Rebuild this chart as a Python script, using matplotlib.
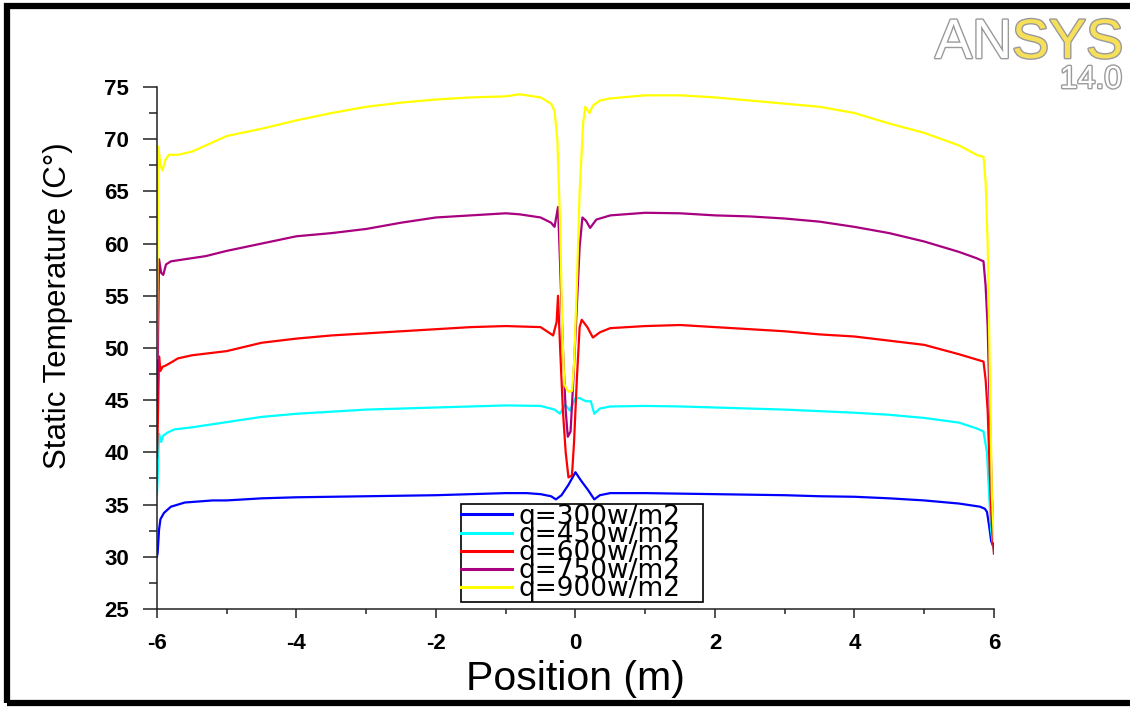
import matplotlib.pyplot as plt
import matplotlib.patheffects as pe
from matplotlib.patches import Rectangle
from matplotlib.ticker import MultipleLocator

plt.rcParams['font.family'] = ['Liberation Sans', 'DejaVu Sans']
plt.rcParams['axes.unicode_minus'] = False

# Data (position in m, static temperature in C)
x_300 = [-6.0, -5.99, -5.97, -5.95, -5.9, -5.8, -5.6, -5.2, -5.0, -4.5, -4.0, -3.5, -3.0, -2.5,
         -2.0, -1.5, -1.0, -0.7, -0.5, -0.35, -0.28, -0.2, -0.1, 0.0, 0.08, 0.18, 0.27, 0.35,
         0.5, 1.0, 1.5, 2.0, 2.5, 3.0, 3.5, 4.0, 4.5, 5.0, 5.5, 5.8, 5.87, 5.9, 5.93, 5.96, 6.0]
t_300 = [30.0, 30.4, 32.6, 33.6, 34.2, 34.8, 35.2, 35.4, 35.4, 35.6, 35.7, 35.75, 35.8, 35.85,
         35.9, 36.0, 36.1, 36.1, 36.0, 35.8, 35.5, 35.9, 36.9, 38.1, 37.3, 36.4, 35.5, 35.9,
         36.1, 36.1, 36.05, 36.0, 35.95, 35.9, 35.8, 35.75, 35.6, 35.4, 35.1, 34.8, 34.6, 34.3,
         33.0, 31.5, 30.8]

x_450 = [-6.0, -5.99, -5.97, -5.94, -5.91, -5.85, -5.75, -5.5, -5.0, -4.5, -4.0, -3.5, -3.0,
         -2.5, -2.0, -1.5, -1.0, -0.5, -0.3, -0.22, -0.15, -0.08, 0.0, 0.06, 0.15, 0.22, 0.27,
         0.35, 0.5, 1.0, 1.5, 2.0, 2.5, 3.0, 3.5, 4.0, 4.5, 5.0, 5.5, 5.75, 5.85, 5.9, 5.93,
         5.96, 6.0]
t_450 = [36.0, 37.5, 41.8, 41.0, 41.6, 41.9, 42.2, 42.4, 42.9, 43.4, 43.7, 43.9, 44.1, 44.2,
         44.3, 44.4, 44.5, 44.45, 44.1, 43.7, 44.6, 44.0, 45.2, 45.2, 44.9, 44.9, 43.7, 44.2,
         44.4, 44.45, 44.4, 44.3, 44.2, 44.1, 43.95, 43.8, 43.6, 43.3, 42.85, 42.3, 42.0, 40.0,
         36.0, 32.5, 30.5]

x_600 = [-6.0, -5.99, -5.97, -5.95, -5.92, -5.88, -5.8, -5.7, -5.5, -5.0, -4.5, -4.0, -3.5,
         -3.0, -2.5, -2.0, -1.5, -1.0, -0.5, -0.32, -0.27, -0.25, -0.22, -0.18, -0.14, -0.1,
         -0.05, -0.02, 0.02, 0.06, 0.09, 0.17, 0.25, 0.35, 0.5, 1.0, 1.5, 2.0, 2.5, 3.0, 3.5,
         4.0, 4.5, 5.0, 5.5, 5.75, 5.85, 5.88, 5.91, 5.94, 5.97, 6.0]
t_600 = [39.5, 42.0, 49.2, 47.8, 48.2, 48.3, 48.6, 49.0, 49.3, 49.7, 50.5, 50.9, 51.2, 51.4,
         51.6, 51.8, 52.0, 52.1, 52.0, 51.2, 52.5, 55.0, 50.0, 44.0, 40.0, 37.6, 37.8, 41.0,
         47.0, 52.0, 52.7, 52.0, 51.0, 51.5, 51.9, 52.1, 52.2, 52.0, 51.8, 51.6, 51.3, 51.1,
         50.7, 50.3, 49.4, 48.9, 48.7, 47.0, 44.0, 38.0, 33.0, 30.3]

x_750 = [-6.0, -5.99, -5.97, -5.94, -5.91, -5.87, -5.8, -5.6, -5.3, -5.0, -4.5, -4.0, -3.5,
         -3.0, -2.5, -2.0, -1.5, -1.0, -0.8, -0.5, -0.35, -0.3, -0.25, -0.22, -0.18, -0.14,
         -0.11, -0.07, -0.03, 0.02, 0.06, 0.1, 0.15, 0.21, 0.3, 0.5, 1.0, 1.5, 2.0, 2.5, 3.0,
         3.5, 4.0, 4.5, 5.0, 5.5, 5.75, 5.85, 5.88, 5.91, 5.94, 5.97, 6.0]
t_750 = [44.0, 48.0, 58.5, 57.2, 57.0, 58.0, 58.3, 58.5, 58.8, 59.3, 60.0, 60.7, 61.0, 61.4,
         62.0, 62.5, 62.7, 62.9, 62.8, 62.5, 62.0, 61.6, 63.5, 58.0, 50.0, 44.0, 41.5, 42.0,
         47.0, 54.0, 59.7, 62.5, 62.2, 61.5, 62.3, 62.7, 62.95, 62.9, 62.7, 62.6, 62.4, 62.1,
         61.6, 61.0, 60.2, 59.2, 58.6, 58.3, 56.0, 52.0, 44.0, 36.0, 31.0]

x_900 = [-6.0, -5.99, -5.98, -5.95, -5.92, -5.88, -5.83, -5.7, -5.5, -5.0, -4.5, -4.0, -3.5,
         -3.0, -2.5, -2.0, -1.5, -1.0, -0.8, -0.5, -0.35, -0.3, -0.26, -0.22, -0.19, -0.16,
         -0.1, -0.05, -0.02, 0.02, 0.06, 0.11, 0.14, 0.2, 0.25, 0.35, 0.5, 1.0, 1.5, 2.0, 2.5,
         3.0, 3.5, 4.0, 4.5, 5.0, 5.5, 5.75, 5.85, 5.88, 5.91, 5.94, 5.97, 6.0]
t_900 = [49.0, 60.0, 69.3, 67.5, 67.0, 68.0, 68.5, 68.5, 68.8, 70.3, 71.0, 71.8, 72.5, 73.1,
         73.5, 73.8, 74.0, 74.1, 74.3, 74.0, 73.4, 72.7, 70.0, 62.0, 52.0, 46.5, 45.8, 45.9,
         48.5, 56.0, 65.0, 71.5, 73.1, 72.5, 73.2, 73.7, 73.9, 74.2, 74.2, 74.0, 73.7, 73.4,
         73.1, 72.5, 71.5, 70.6, 69.4, 68.5, 68.3, 66.0, 60.0, 48.0, 36.0, 31.5]

series = [
    (x_300, t_300, 'q=300w/m2', '#0000ff'),
    (x_450, t_450, 'q=450w/m2', '#00ffff'),
    (x_600, t_600, 'q=600w/m2', '#ff0000'),
    (x_750, t_750, 'q=750w/m2', '#a8007f'),
    (x_900, t_900, 'q=900w/m2', '#ffff00'),
]

fig = plt.figure(figsize=(11.3, 7.07), dpi=100)
ax = fig.add_axes([0.1389, 0.1386, 0.7407, 0.7384])

for xs, ts, lab, col in series:
    ax.plot(xs, ts, color=col, lw=1.6, label=lab)

ax.set_xlim(-6, 6)
ax.set_ylim(25, 75)
ax.xaxis.set_major_locator(MultipleLocator(2))
ax.xaxis.set_minor_locator(MultipleLocator(1))
ax.yaxis.set_major_locator(MultipleLocator(5))
ax.yaxis.set_minor_locator(MultipleLocator(2.5))
for s in ['top', 'right']:
    ax.spines[s].set_visible(False)
for s in ['left', 'bottom']:
    ax.spines[s].set_linewidth(1.1)
    ax.spines[s].set_color('#222222')
ax.tick_params(axis='y', which='major', direction='out', length=10, width=1.1, pad=10,
               labelsize=16, color='#222222')
ax.tick_params(axis='y', which='minor', direction='out', length=5.5, width=1.1, color='#222222')
ax.tick_params(axis='x', which='major', direction='out', length=6.5, width=1.1, pad=11,
               labelsize=16, color='#222222')
ax.tick_params(axis='x', which='minor', direction='out', length=3.5, width=1.1, color='#222222')
for lbl in ax.get_xticklabels() + ax.get_yticklabels():
    lbl.set_fontweight('bold')

ax.set_xlabel('Position (m)', fontsize=29.5)
ax.xaxis.set_label_coords(0.5, -0.097)
ax.set_ylabel('Static Temperature (C°)', fontsize=22.5)
ax.yaxis.set_label_coords(-0.10, 0.582)

leg = ax.legend(loc='lower left', bbox_to_anchor=(0.363, 0.0134, 0.289, 0.18),
                mode='expand', borderaxespad=0,
                prop={'family': 'DejaVu Sans', 'size': 19},
                labelspacing=-0.3, handlelength=1.95, handletextpad=0.25,
                borderpad=0.0, fancybox=False, framealpha=1, edgecolor='black')
leg.get_frame().set_linewidth(1.2)
for h in leg.get_lines():
    h.set_linewidth(2.2)

# outer black frame
fig.patches.append(Rectangle((0.0066, 0.0057), 1.2, 0.986, transform=fig.transFigure,
                             fill=False, edgecolor='black', lw=4.5))

# logo
stroke = [pe.withStroke(linewidth=2, foreground='#9a9a9a')]
fig.text(1012 / 1130, 0.918, 'AN', fontsize=40, color='white', ha='right', va='baseline',
         path_effects=stroke)
fig.text(1012 / 1130, 0.918, 'SYS', fontsize=40, color='#f6e05a', ha='left', va='baseline',
         path_effects=stroke)
fig.text(1122 / 1130, 0.8755, '14.0', fontsize=23, color='white', ha='right', va='baseline',
         path_effects=stroke)

fig.savefig('out.png', dpi=100)
